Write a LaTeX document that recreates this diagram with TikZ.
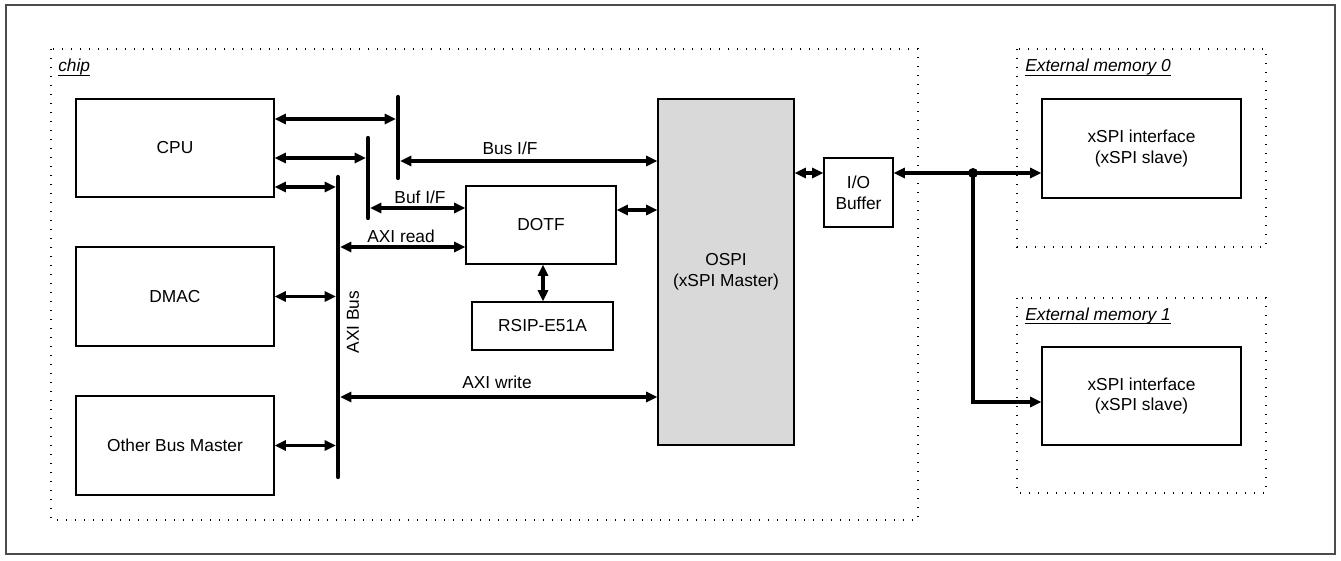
\documentclass[tikz,border=0pt]{standalone}
\usepackage{fontspec}
\setmainfont{Liberation Sans}
\usetikzlibrary{arrows.meta}
\tikzset{
  box/.style={draw=black, line width=0.85pt, inner sep=0pt, align=center},
  wh/.style 2 args={minimum width=#1*0.75pt, minimum height=#2*0.75pt},
  dotbox/.style={draw=black, line width=1.1pt, dash pattern=on 1.1pt off 5.65pt},
  grp/.style={font=\fontsize{13}{15.5}\selectfont\itshape, anchor=base west, inner sep=0pt},
  uline/.style={line width=1.3pt},
  conn/.style={line width=2.4pt, {Triangle[length=8.5pt,width=7.5pt]}-{Triangle[length=8.5pt,width=7.5pt]}},
  conn1/.style={line width=2.4pt, -{Triangle[length=8.5pt,width=7.5pt]}},
  busbar/.style={line width=3.2pt, line cap=round},
  lab/.style={inner sep=0pt}
}
\begin{document}
\begin{tikzpicture}[x=0.75pt,y=-0.75pt, font=\fontsize{13}{15.5}\selectfont]
\useasboundingbox (0,0) rectangle (1341,560);
% outer frame
\draw[draw=black!70, line width=1.5pt] (6,5) rectangle (1335,554);
% group frames
\draw[dotbox] (51,49) rectangle (918,520);
\draw[dotbox] (1017,49) rectangle (1266,247);
\draw[dotbox] (1017,298) rectangle (1266,493);
\node[grp] (lchip) at (58,72) {chip};
\node[grp] (lext0) at (1025,72) {External memory 0};
\node[grp] (lext1) at (1025,320) {External memory 1};
\foreach \g in {lchip,lext0,lext1}
  \draw[uline] ([yshift=-2.6pt]\g.base west) -- ([yshift=-2.6pt]\g.base east);
% boxes
\node[box, wh={198}{98}] (cpu) at (175,148) {CPU};
\node[box, wh={198}{99}] (dmac) at (175,296.5) {DMAC};
\node[box, wh={198}{99}] (obm) at (175,445.5) {Other Bus Master};
\node[box, wh={150}{78}] (dotf) at (541,225) {DOTF};
\node[box, wh={141}{48}] (rsip) at (542.5,326) {RSIP-E51A};
\node[box, wh={136}{346}, fill=gray!30] (ospi) at (726,272) {OSPI\\(xSPI Master)};
\node[box, wh={69}{69}] (iob) at (858.5,192.5) {I/O\\Buffer};
\node[box, wh={199}{99}] (xs0) at (1141.5,148.5) {xSPI interface\\(xSPI slave)};
\node[box, wh={199}{98}] (xs1) at (1141.5,396) {xSPI interface\\(xSPI slave)};
% bus bars
\coordinate (b1t) at (398,97);
\coordinate (b1b) at (398,178);
\coordinate (b2t) at (368,138);
\coordinate (b2b) at (368,218);
\coordinate (axt) at (338,177);
\coordinate (axb) at (338,477);
\draw[busbar] (b1t) -- (b1b);
\draw[busbar] (b2t) -- (b2b);
\draw[busbar] (axt) -- (axb);
\node[lab, rotate=90] (axil) at (353,322) {AXI Bus};
% connection points on the bars
\coordinate (p1) at (396,119);
\coordinate (p2) at (366,158);
\coordinate (p3) at (336,187);
\coordinate (axL) at (336,0);
\coordinate (bif) at (400,161);
\coordinate (buf) at (370,208);
\coordinate (ard) at (340,247);
\coordinate (awr) at (340,397);
\coordinate (dos) at (0,210);
\coordinate (io) at (0,173);
\coordinate (j) at (973,173);
\coordinate (k) at (0,402);
\coordinate (rx) at (543,0);
% connectors
\draw[conn] (cpu.east |- p1) -- (p1);
\draw[conn] (cpu.east |- p2) -- (p2);
\draw[conn] (cpu.east |- p3) -- (p3);
\draw[conn] (dmac.east) -- (dmac.east -| axL);
\draw[conn] (obm.east) -- (obm.east -| axL);
\draw[conn] (bif) -- (ospi.west |- bif);
\draw[conn] (buf) -- (dotf.west |- buf);
\draw[conn] (ard) -- (dotf.west |- ard);
\draw[conn] (awr) -- (ospi.west |- awr);
\draw[conn] (dotf.east |- dos) -- (ospi.west |- dos);
\draw[conn] (dotf.south -| rx) -- (rsip.north -| rx);
\draw[conn] (ospi.east |- io) -- (iob.west |- io);
\draw[conn] (iob.east |- io) -- (xs0.west |- io);
\draw[conn1] (j) -- (j |- k) -- (xs1.west |- k);
\fill (j) circle[radius=3.75pt];
% labels
\node[lab] (lbif) at (510,148) {Bus I/F};
\node[lab] (lbuf) at (420,197) {Buf I/F};
\node[lab] (lard) at (401,236) {AXI read};
\node[lab] (lawr) at (497,382) {AXI write};
\end{tikzpicture}
\end{document}
